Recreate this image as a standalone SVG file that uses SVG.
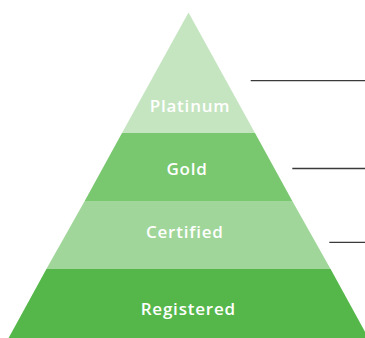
<svg xmlns="http://www.w3.org/2000/svg" width="365" height="338" viewBox="0 0 365 338">
<style>
.lbl{font-family:"Open Sans","Noto Sans",sans-serif;font-weight:600;font-size:17px;fill:#ffffff;text-anchor:middle;letter-spacing:0.8px}
.ln{stroke:#3a3a3a;stroke-width:1.3;fill:none}
</style>
<rect width="365" height="338" fill="#ffffff"/>
<g id="platinum">
<polygon points="188.5,12.5 255,133 122,133" fill="#c5e5c1"/>
<text class="lbl" x="190" y="111.5">Platinum</text>
</g>
<g id="gold">
<polygon points="122,133 255,133 292.3,201 84.7,201" fill="#79c76f"/>
<text class="lbl" x="187" y="175">Gold</text>
</g>
<g id="certified">
<polygon points="84.7,201 292.3,201 330.6,269 46.4,269" fill="#a0d699"/>
<text class="lbl" x="184.8" y="237.5">Certified</text>
</g>
<g id="registered">
<polygon points="46.4,269 330.6,269 368.4,338 8.6,338" fill="#55b74a"/>
<text class="lbl" x="188.3" y="315">Registered</text>
</g>
<g id="connectors">
<line class="ln" x1="250.7" y1="80.7" x2="365" y2="80.7"/>
<line class="ln" x1="292.3" y1="168.5" x2="365" y2="168.5"/>
<line class="ln" x1="329.3" y1="242.3" x2="365" y2="242.3"/>
</g>
</svg>
